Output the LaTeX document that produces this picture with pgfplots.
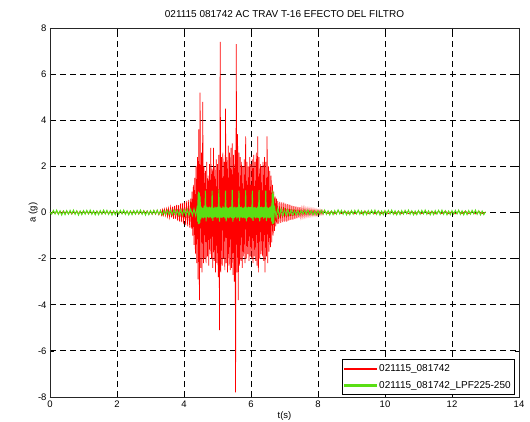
\documentclass[border=0pt]{standalone}
\usepackage{pgfplots}
\pgfplotsset{compat=1.18}
\usepackage{fontspec}
\setmainfont{Liberation Sans}
\definecolor{mred}{rgb}{1,0,0}
\definecolor{mgreen}{RGB}{90,222,20}
\begin{document}
\begin{tikzpicture}
\useasboundingbox (-50pt,-25pt) rectangle (480pt,397pt);
\begin{axis}[
  at={(0pt,0pt)}, anchor=south west,
  scale only axis, width=469pt, height=369pt,
  xmin=0, xmax=14, ymin=-8, ymax=8,
  xtick={0,2,...,14}, ytick={-8,-6,...,8},
  grid=major,
  major grid style={black, dash pattern=on 6pt off 4pt, line width=0.8pt},
  axis line style={black!85, line width=0.9pt},
  tick style={black, line width=0.7pt},
  major tick length=4pt, tick align=inside,
  /pgf/number format/assume math mode=true,
  tick label style={font=\fontsize{9.5}{10}\selectfont},
  title={021115 081742 AC TRAV T-16 EFECTO DEL FILTRO},
  title style={font=\fontsize{10}{11}\selectfont, at={(axis description cs:0.5,1)}, anchor=base, yshift=4pt},
  xlabel={t(s)},
  xlabel style={font=\fontsize{9.5}{10}\selectfont, at={(axis description cs:0.5,0)}, anchor=base, yshift=-22pt},
  ylabel={a (g)},
  ylabel style={font=\fontsize{9.5}{10}\selectfont, at={(axis description cs:-0.036,0.5)}, anchor=center, rotate=0},
  legend style={at={(axis description cs:0.9915,0.005)}, anchor=south east, draw=black, line width=0.7pt,
    font=\fontsize{10}{11}\selectfont, inner xsep=2pt, inner ysep=3pt, row sep=4pt},
  legend cell align=left,
  legend image code/.code={\fill[#1] (0pt,-0.65pt) rectangle (32pt,0.65pt);},
]
\addplot[mred, line width=0.7pt] coordinates {
(0.00,0.02)(0.05,-0.05)(0.10,0.06)(0.15,-0.04)(0.20,0.05)(0.25,-0.06)(0.30,0.05)(0.35,-0.05)(0.40,0.07)(0.45,-0.05)
(0.50,0.06)(0.55,-0.06)(0.60,0.04)(0.65,-0.07)(0.70,0.05)(0.75,-0.05)(0.80,0.06)(0.85,-0.05)(0.90,0.05)(0.95,-0.06)
(1.00,0.07)(1.05,-0.04)(1.10,0.05)(1.15,-0.06)(1.20,0.06)(1.25,-0.05)(1.30,0.05)(1.35,-0.07)(1.40,0.06)(1.45,-0.05)
(1.50,0.05)(1.55,-0.06)(1.60,0.07)(1.65,-0.05)(1.70,0.05)(1.75,-0.06)(1.80,0.06)(1.85,-0.05)(1.90,0.05)(1.95,-0.07)
(2.00,0.06)(2.05,-0.05)(2.10,0.06)(2.15,-0.05)(2.20,0.07)(2.25,-0.06)(2.30,0.05)(2.35,-0.06)(2.40,0.06)(2.45,-0.05)
(2.50,0.07)(2.55,-0.06)(2.60,0.06)(2.65,-0.07)(2.70,0.06)(2.75,-0.06)(2.80,0.08)(2.85,-0.06)(2.90,0.07)(2.95,-0.08)
(3.00,0.07)(3.05,-0.08)(3.10,0.09)(3.15,-0.08)(3.20,0.09)(3.25,-0.10)
(3.30,0.10)(3.33,-0.11)(3.36,0.12)(3.39,-0.11)(3.42,0.14)(3.45,-0.13)(3.48,0.15)(3.51,-0.17)(3.54,0.17)(3.57,-0.20)
(3.60,0.22)(3.63,-0.21)(3.66,0.25)(3.69,-0.27)(3.72,0.29)(3.75,-0.27)(3.78,0.33)(3.81,-0.35)(3.84,0.32)(3.87,-0.40)
(3.90,0.40)(3.93,-0.42)(3.96,0.42)(3.99,-0.50)(4.02,0.45)(4.05,-0.55)(4.08,0.50)(4.11,-0.60)(4.14,0.55)(4.17,-0.65)
(4.20,0.6)(4.22,-0.7)(4.24,0.9)(4.26,-1.0)(4.28,1.2)(4.30,-1.4)(4.32,1.5)(4.34,-1.8)(4.36,2.0)(4.38,-2.2)
(4.40,2.4)(4.42,-2.9)(4.44,3.6)(4.46,-3.8)(4.48,5.2)(4.50,-2.4)(4.52,2.6)(4.54,-2.6)(4.56,4.8)(4.58,-2.2)
(4.60,2.0)(4.62,-2.0)(4.64,1.8)(4.66,-2.2)(4.68,2.2)(4.70,-1.9)(4.72,1.6)(4.74,-2.3)(4.76,2.1)(4.78,-1.8)
(4.80,2.8)(4.82,-2.0)(4.84,1.9)(4.86,-2.4)(4.88,2.8)(4.90,-2.1)(4.92,2.0)(4.94,-2.6)(4.96,2.3)(4.98,-2.2)
(5.00,2.1)(5.02,-2.8)(5.04,2.5)(5.06,-5.1)(5.08,7.4)(5.10,-2.6)(5.12,2.4)(5.14,-2.3)(5.16,2.6)(5.18,-2.0)
(5.20,2.2)(5.22,-2.5)(5.24,4.5)(5.26,-2.2)(5.28,2.4)(5.30,-2.6)(5.32,2.9)(5.34,-2.3)(5.36,2.6)(5.38,-2.5)
(5.40,2.8)(5.42,-2.4)(5.44,3.0)(5.46,-2.7)(5.48,2.5)(5.50,-3.0)(5.52,2.7)(5.54,-7.8)(5.56,7.3)(5.58,-2.6)
(5.60,3.4)(5.62,-3.8)(5.64,2.6)(5.66,-2.3)(5.68,2.4)(5.70,-2.1)(5.72,2.2)(5.74,-2.4)(5.76,2.0)(5.78,-1.9)
(5.80,2.3)(5.82,-2.2)(5.84,3.3)(5.86,-2.0)(5.88,2.2)(5.90,-1.8)(5.92,2.0)(5.94,-2.1)(5.96,2.4)(5.98,-1.9)
(6.00,2.1)(6.02,-2.0)(6.04,2.3)(6.06,-2.2)(6.08,2.5)(6.10,-1.9)(6.12,2.2)(6.14,-2.1)(6.16,2.6)(6.18,-2.3)
(6.20,3.3)(6.22,-2.6)(6.24,2.4)(6.26,-2.0)(6.28,2.1)(6.30,-1.8)(6.32,2.0)(6.34,-1.9)(6.36,2.2)(6.38,-2.1)
(6.40,2.4)(6.42,-2.6)(6.44,2.2)(6.46,-1.9)(6.48,3.3)(6.50,-2.2)(6.52,2.0)(6.54,-1.7)(6.56,1.8)(6.58,-1.5)
(6.60,1.6)(6.62,-1.3)(6.64,1.2)(6.66,-1.0)(6.68,0.9)(6.70,-0.8)(6.72,0.7)(6.74,-0.6)(6.76,0.6)(6.78,-0.5)
(6.80,0.5)(6.83,-0.48)(6.86,0.46)(6.89,-0.45)(6.92,0.44)(6.95,-0.42)(6.98,0.43)(7.01,-0.40)(7.04,0.38)(7.07,-0.40)
(7.10,0.36)(7.13,-0.35)(7.16,0.34)(7.19,-0.32)(7.22,0.30)(7.25,-0.31)(7.28,0.28)(7.31,-0.27)(7.34,0.26)(7.37,-0.25)
(7.40,0.24)(7.43,-0.22)(7.46,0.23)(7.49,-0.20)(7.52,0.19)(7.55,-0.18)(7.58,0.20)(7.61,-0.17)(7.64,0.16)(7.67,-0.15)
(7.70,0.16)(7.73,-0.14)(7.76,0.15)(7.79,-0.13)(7.82,0.14)(7.85,-0.12)(7.88,0.13)(7.91,-0.12)(7.94,0.11)(7.97,-0.12)
(8.00,0.10)(8.03,-0.09)(8.06,0.10)(8.09,-0.08)(8.12,0.09)(8.15,-0.08)(8.18,0.07)
(8.2,0.06)(8.3,-0.05)(8.4,0.05)(8.5,-0.06)(8.6,0.05)(8.7,-0.05)(8.8,0.06)(8.9,-0.05)(9.0,0.05)(9.1,-0.06)
(9.2,0.05)(9.3,-0.05)(9.4,0.06)(9.5,-0.05)(9.6,0.05)(9.7,-0.06)(9.8,0.05)(9.9,-0.05)(10.0,0.06)(10.1,-0.05)
(10.2,0.05)(10.3,-0.06)(10.4,0.05)(10.5,-0.05)(10.6,0.06)(10.7,-0.05)(10.8,0.05)(10.9,-0.06)(11.0,0.05)(11.1,-0.05)
(11.2,0.06)(11.3,-0.05)(11.4,0.05)(11.5,-0.06)(11.6,0.05)(11.7,-0.05)(11.8,0.06)(11.9,-0.05)(12.0,0.05)(12.1,-0.06)
(12.2,0.05)(12.3,-0.05)(12.4,0.06)(12.5,-0.05)(12.6,0.05)(12.7,-0.06)(12.8,0.05)(12.9,-0.05)(13.0,0.02)
};
\addlegendentry{021115\_081742}
\addplot[color={rgb,255:red,90;green,222;blue,20}, line width=1pt] coordinates {
(0.00,0.02)(0.05,-0.07)(0.10,0.09)(0.15,-0.06)(0.20,0.10)(0.25,-0.08)(0.30,0.07)(0.35,-0.11)(0.40,0.06)(0.45,-0.09)
(0.50,0.08)(0.55,-0.07)(0.60,0.09)(0.65,-0.06)(0.70,0.10)(0.75,-0.08)(0.80,0.07)(0.85,-0.11)(0.90,0.06)(0.95,-0.09)
(1.00,0.08)(1.05,-0.07)(1.10,0.09)(1.15,-0.06)(1.20,0.10)(1.25,-0.08)(1.30,0.07)(1.35,-0.10)(1.40,0.06)(1.45,-0.09)
(1.50,0.08)(1.55,-0.07)(1.60,0.10)(1.65,-0.06)(1.70,0.09)(1.75,-0.08)(1.80,0.07)(1.85,-0.11)(1.90,0.06)(1.95,-0.09)
(2.00,0.08)(2.05,-0.07)(2.10,0.09)(2.15,-0.06)(2.20,0.10)(2.25,-0.08)(2.30,0.07)(2.35,-0.10)(2.40,0.06)(2.45,-0.09)
(2.50,0.08)(2.55,-0.07)(2.60,0.09)(2.65,-0.06)(2.70,0.10)(2.75,-0.08)(2.80,0.07)(2.85,-0.11)(2.90,0.06)(2.95,-0.09)
(3.00,0.08)(3.05,-0.07)(3.10,0.09)(3.15,-0.06)(3.20,0.10)(3.25,-0.08)(3.30,0.07)(3.35,-0.10)(3.40,0.08)(3.45,-0.09)
(3.50,0.10)(3.55,-0.08)(3.60,0.09)(3.65,-0.10)(3.70,0.11)(3.75,-0.09)(3.80,0.10)(3.85,-0.12)(3.90,0.11)(3.95,-0.10)
(4.00,0.12)(4.05,-0.11)(4.10,0.13)(4.15,-0.12)(4.20,0.14)(4.25,-0.13)(4.30,0.15)(4.35,-0.14)
(4.40,0.30)(4.41,-0.40)(4.42,0.80)(4.43,-0.50)(4.44,0.90)(4.45,-0.50)(4.46,0.85)(4.47,-0.45)(4.48,0.70)(4.50,-0.30)
(4.52,0.25)(4.54,-0.22)(4.56,0.20)(4.58,-0.25)(4.60,0.30)(4.62,-0.22)(4.64,0.95)(4.66,-0.38)(4.68,0.25)(4.70,-0.20)
(4.72,0.22)(4.74,-0.24)(4.76,0.25)(4.78,-0.20)(4.80,0.22)(4.82,-0.25)(4.84,0.95)(4.86,-0.36)(4.88,0.20)(4.90,-0.22)
(4.92,0.25)(4.94,-0.20)(4.96,0.22)(4.98,-0.25)(5.00,0.24)(5.02,-0.22)(5.04,1.00)(5.06,-0.40)(5.08,0.25)(5.10,-0.22)
(5.12,0.20)(5.14,-0.24)(5.16,0.26)(5.18,-0.20)(5.20,0.22)(5.22,-0.25)(5.24,0.95)(5.26,-0.38)(5.28,0.24)(5.30,-0.22)
(5.32,0.20)(5.34,-0.25)(5.36,0.23)(5.38,-0.21)(5.40,0.25)(5.42,-0.24)(5.44,0.98)(5.46,-0.40)(5.48,0.22)(5.50,-0.24)
(5.52,0.25)(5.54,-0.20)(5.56,0.22)(5.58,-0.26)(5.60,0.24)(5.62,-0.22)(5.64,0.95)(5.66,-0.37)(5.68,0.23)(5.70,-0.21)
(5.72,0.25)(5.74,-0.24)(5.76,0.20)(5.78,-0.22)(5.80,0.24)(5.82,-0.25)(5.84,0.96)(5.86,-0.38)(5.88,0.22)(5.90,-0.24)
(5.92,0.25)(5.94,-0.20)(5.96,0.23)(5.98,-0.22)(6.00,0.24)(6.02,-0.25)(6.04,0.95)(6.06,-0.36)(6.08,0.22)(6.10,-0.21)
(6.12,0.24)(6.14,-0.25)(6.16,0.20)(6.18,-0.22)(6.20,0.25)(6.22,-0.24)(6.24,0.97)(6.26,-0.38)(6.28,0.23)(6.30,-0.22)
(6.32,0.25)(6.34,-0.20)(6.36,0.22)(6.38,-0.26)(6.40,0.24)(6.42,-0.22)(6.44,0.95)(6.46,-0.37)(6.48,0.24)(6.50,-0.22)
(6.52,0.20)(6.54,-0.25)(6.56,0.24)(6.58,-0.22)(6.60,0.30)(6.62,-0.40)(6.63,0.80)(6.64,-0.50)(6.65,0.95)(6.66,-0.50)
(6.67,0.80)(6.68,-0.45)(6.70,0.30)
(6.75,-0.20)(6.80,0.18)(6.85,-0.16)(6.90,0.15)(6.95,-0.14)(7.00,0.13)(7.05,-0.12)(7.10,0.12)(7.15,-0.11)(7.20,0.10)
(7.25,-0.11)(7.30,0.09)(7.35,-0.10)(7.40,0.08)(7.45,-0.09)
(7.50,0.08)(7.55,-0.07)(7.60,0.09)(7.65,-0.06)(7.70,0.10)(7.75,-0.08)(7.80,0.07)(7.85,-0.10)(7.90,0.06)(7.95,-0.09)
(8.00,0.08)(8.05,-0.07)(8.10,0.09)(8.15,-0.06)(8.20,0.10)(8.25,-0.08)(8.30,0.07)(8.35,-0.10)(8.40,0.06)(8.45,-0.09)
(8.50,0.08)(8.55,-0.07)(8.60,0.11)(8.65,-0.06)(8.70,0.09)(8.75,-0.08)(8.80,0.07)(8.85,-0.10)(8.90,0.06)(8.95,-0.09)
(9.00,0.08)(9.05,-0.07)(9.10,0.09)(9.15,-0.06)(9.20,0.10)(9.25,-0.08)(9.30,0.07)(9.35,-0.10)(9.40,0.06)(9.45,-0.09)
(9.50,0.08)(9.55,-0.07)(9.60,0.09)(9.65,-0.06)(9.70,0.10)(9.75,-0.08)(9.80,0.07)(9.85,-0.11)(9.90,0.06)(9.95,-0.09)
(10.00,0.08)(10.05,-0.07)(10.10,0.09)(10.15,-0.06)(10.20,0.10)(10.25,-0.08)(10.30,0.07)(10.35,-0.10)(10.40,0.06)(10.45,-0.09)
(10.50,0.08)(10.55,-0.07)(10.60,0.09)(10.65,-0.06)(10.70,0.10)(10.75,-0.08)(10.80,0.07)(10.85,-0.10)(10.90,0.06)(10.95,-0.09)
(11.00,0.08)(11.05,-0.07)(11.10,0.09)(11.15,-0.06)(11.20,0.10)(11.25,-0.08)(11.30,0.07)(11.35,-0.10)(11.40,0.06)(11.45,-0.09)
(11.50,0.08)(11.55,-0.07)(11.60,0.09)(11.65,-0.06)(11.70,0.10)(11.75,-0.08)(11.80,0.07)(11.85,-0.10)(11.90,0.06)(11.95,-0.09)
(12.00,0.08)(12.05,-0.07)(12.10,0.09)(12.15,-0.06)(12.20,0.10)(12.25,-0.08)(12.30,0.07)(12.35,-0.10)(12.40,0.06)(12.45,-0.09)
(12.50,0.08)(12.55,-0.07)(12.60,0.09)(12.65,-0.06)(12.70,0.10)(12.75,-0.08)(12.80,0.07)(12.85,-0.10)(12.90,0.06)(12.95,-0.09)
(13.00,0.03)
};
\addlegendentry{021115\_081742\_LPF225-250}
\end{axis}
\end{tikzpicture}
\end{document}
